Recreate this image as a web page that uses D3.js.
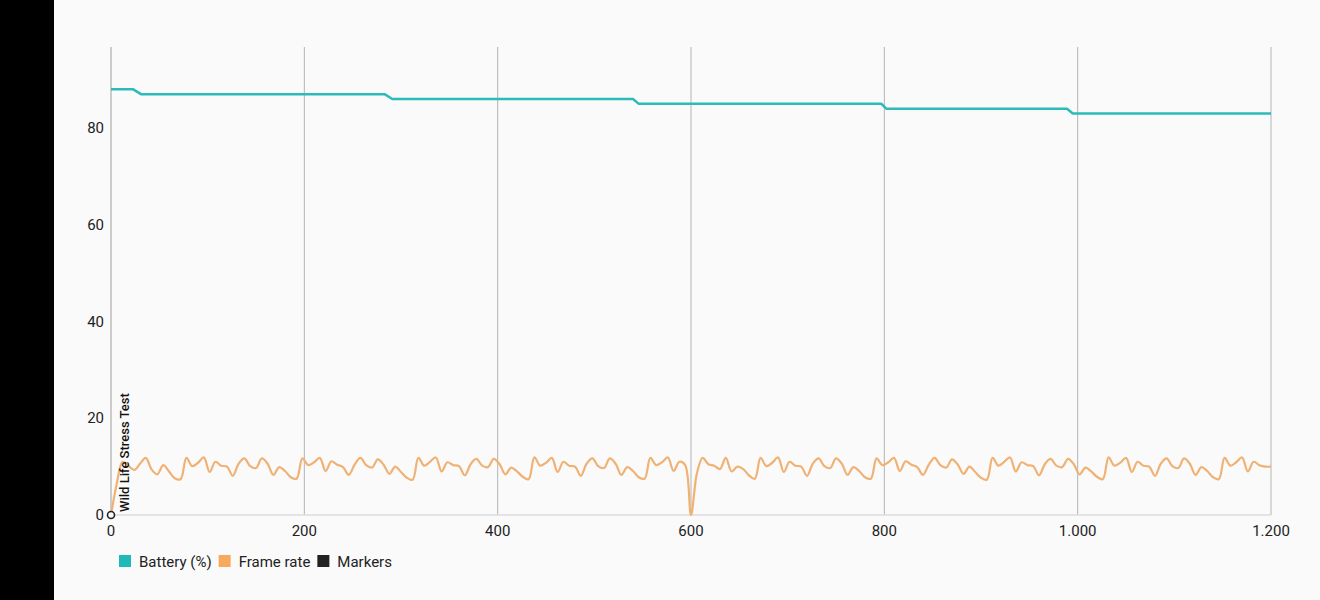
<!DOCTYPE html>
<html>
<head>
<meta charset="utf-8">
<script src="https://cdn.jsdelivr.net/npm/d3@7/dist/d3.min.js"></script>
<style>
  html, body { margin: 0; padding: 0; background: #fafafa; }
  body { width: 1320px; height: 600px; overflow: hidden; font-family: Roboto, "Noto Sans", Arial, sans-serif; }
  .side { position: absolute; left: 0; top: 0; width: 54px; height: 600px; background: #000; }
</style>
</head>
<body>
<div class="side"></div>
<div id="chart"></div>
<script>
// Battery (%) over time (s)
const batteryTime = [0, 23, 31, 283, 291, 540, 546, 797, 802, 989, 995, 1200];
const batteryLevel = [88, 88, 87, 87, 86, 86, 85, 85, 84, 84, 83, 83];

// Frame rate, one sample every 6 s from 0 to 1200
const frameStep = 6;
const frameRate = [
  0, 6.5, 11.0, 10.2, 9.3, 10.6, 11.8, 9.4, 8.4, 10.3, 9.0, 7.6,
  7.4, 11.8, 10.1, 10.8, 11.9, 8.9, 11.0, 10.2, 10.0, 8.1, 10.6, 11.7, 10.1, 9.7, 11.7, 10.6, 8.3, 9.9, 9.1, 7.8,
  7.5, 11.7, 10.3, 10.9, 11.8, 9.1, 11.1, 10.4, 9.9, 8.3, 10.4, 11.8, 10.3, 9.8, 11.5, 10.4, 8.5, 10.0, 8.9, 7.7,
  7.3, 11.8, 10.2, 11.0, 11.9, 9.0, 10.9, 10.3, 10.1, 8.2, 10.5, 11.6, 10.2, 9.9, 11.6, 10.5, 8.4, 9.8, 9.0, 7.9,
  7.4, 11.9, 10.2, 10.8, 11.8, 8.9, 11.0, 10.2, 10.0, 8.1, 10.6, 11.7, 10.1, 9.7, 11.7, 10.6, 8.3, 9.9, 9.1, 7.8,
  7.5, 11.8, 10.3, 10.9, 11.9, 9.1, 11.0, 10.3,
  0,
  8.5, 11.8, 10.5, 10.2, 9.5, 11.8, 9.0, 10.0, 9.5, 8.2,
  7.5, 11.8, 10.1, 10.8, 11.9, 8.9, 11.0, 10.2, 10.0, 8.1, 10.6, 11.7, 10.1, 9.7, 11.7, 10.6, 8.3, 9.9, 9.1, 7.8,
  7.5, 11.7, 10.3, 10.9, 11.8, 9.1, 11.1, 10.4, 9.9, 8.3, 10.4, 11.8, 10.3, 9.8, 11.5, 10.4, 8.5, 10.0, 8.9, 7.7,
  7.3, 11.8, 10.2, 11.0, 11.9, 9.0, 10.9, 10.3, 10.1, 8.2, 10.5, 11.6, 10.2, 9.9, 11.6, 10.5, 8.4, 9.8, 9.0, 7.9,
  7.4, 11.9, 10.2, 10.8, 11.8, 8.9, 11.0, 10.2, 10.0, 8.1, 10.6, 11.7, 10.1, 9.7, 11.7, 10.6, 8.3, 9.9, 9.1, 7.8,
  7.4, 11.8, 10.2, 10.9, 11.9, 9.0, 11.0, 10.3, 10.0, 10.0
];

const markers = [{ time: 0, label: 'Wild Life Stress Test' }];

const xTicks = [0, 200, 400, 600, 800, 1000, 1200];
const yTicks = [0, 20, 40, 60, 80];

const legendItems = [
  { name: 'Battery (%)', color: '#1fb9b9' },
  { name: 'Frame rate', color: '#f7a95e' },
  { name: 'Markers', color: '#222222' }
];

const config = {
  width: 1320,
  height: 600,
  left: 111,
  right: 1271,
  top: 47,
  bottom: 515,
  yMax: 96.75,
  batteryColor: '#2dbaba',
  frameColor: '#f0b274',
  textColor: '#222'
};

const fmt = d3.formatLocale({ decimal: ',', thousands: '.', grouping: [3], currency: ['', '€'] }).format(',d');

const svg = d3.select('#chart').append('svg')
  .attr('width', config.width)
  .attr('height', config.height)
  .style('position', 'absolute')
  .style('left', 0)
  .style('top', 0);

const x = d3.scaleLinear().domain([0, 1200]).range([config.left, config.right]);
const y = d3.scaleLinear().domain([0, config.yMax]).range([config.bottom, config.top]);

// vertical grid lines
svg.append('g')
  .selectAll('line')
  .data(xTicks.slice(1))
  .enter()
  .append('line')
  .attr('x1', d => x(d)).attr('x2', d => x(d))
  .attr('y1', config.top).attr('y2', config.bottom)
  .style('stroke', '#b4b4b4')
  .style('stroke-width', '1px');

// bottom axis line
svg.append('line')
  .attr('x1', config.left).attr('x2', config.right)
  .attr('y1', config.bottom).attr('y2', config.bottom)
  .style('stroke', '#dcdcdc')
  .style('stroke-width', '1.5px');

// left axis line
svg.append('line')
  .attr('x1', config.left).attr('x2', config.left)
  .attr('y1', config.top).attr('y2', config.bottom)
  .style('stroke', '#bdbdbd')
  .style('stroke-width', '1.5px');

// x tick labels
svg.append('g')
  .selectAll('text')
  .data(xTicks)
  .enter()
  .append('text')
  .attr('x', d => x(d))
  .attr('y', 536)
  .attr('text-anchor', 'middle')
  .style('font-size', '15px')
  .style('fill', config.textColor)
  .text(d => fmt(d));

// y tick labels
svg.append('g')
  .selectAll('text')
  .data(yTicks)
  .enter()
  .append('text')
  .attr('x', 104)
  .attr('y', d => y(d) + 5)
  .attr('text-anchor', 'end')
  .style('font-size', '15px')
  .style('fill', config.textColor)
  .text(d => d);

// battery line
const batteryData = batteryTime.map((t, i) => ({ t: t, v: batteryLevel[i] }));
svg.append('path')
  .datum(batteryData)
  .attr('d', d3.line().x(d => x(d.t)).y(d => y(d.v)))
  .style('fill', 'none')
  .style('stroke', config.batteryColor)
  .style('stroke-width', '2.5px')
  .style('stroke-linejoin', 'round');

// frame rate line
const frameData = frameRate.map((v, i) => ({ t: i * frameStep, v: v }));
svg.append('path')
  .datum(frameData)
  .attr('d', d3.line().curve(d3.curveCatmullRom.alpha(0.5)).x(d => x(d.t)).y(d => y(d.v)))
  .style('fill', 'none')
  .style('stroke', config.frameColor)
  .style('stroke-width', '2.2px')
  .style('stroke-linejoin', 'round');

// markers
const mk = svg.append('g').selectAll('g').data(markers).enter().append('g');
mk.append('circle')
  .attr('cx', d => x(d.time))
  .attr('cy', y(0))
  .attr('r', 3.5)
  .style('fill', '#fafafa')
  .style('stroke', '#222')
  .style('stroke-width', '1.6px');
mk.append('text')
  .attr('transform', d => `translate(${x(d.time) + 18},${y(0) - 3}) rotate(-90)`)
  .style('font-size', '13px')
  .style('font-weight', 500)
  .style('fill', '#111')
  .text(d => d.label);

// legend
const legend = svg.append('g').attr('transform', 'translate(119,555)');
let lx = 0;
legendItems.forEach(item => {
  const g = legend.append('g').attr('transform', `translate(${lx},0)`);
  g.append('rect').attr('width', 12).attr('height', 12).style('fill', item.color);
  const t = g.append('text')
    .attr('x', 20)
    .attr('y', 12)
    .style('font-size', '15px')
    .style('fill', config.textColor)
    .text(item.name);
  lx += 20 + t.node().getComputedTextLength() + 7;
});
</script>
</body>
</html>
